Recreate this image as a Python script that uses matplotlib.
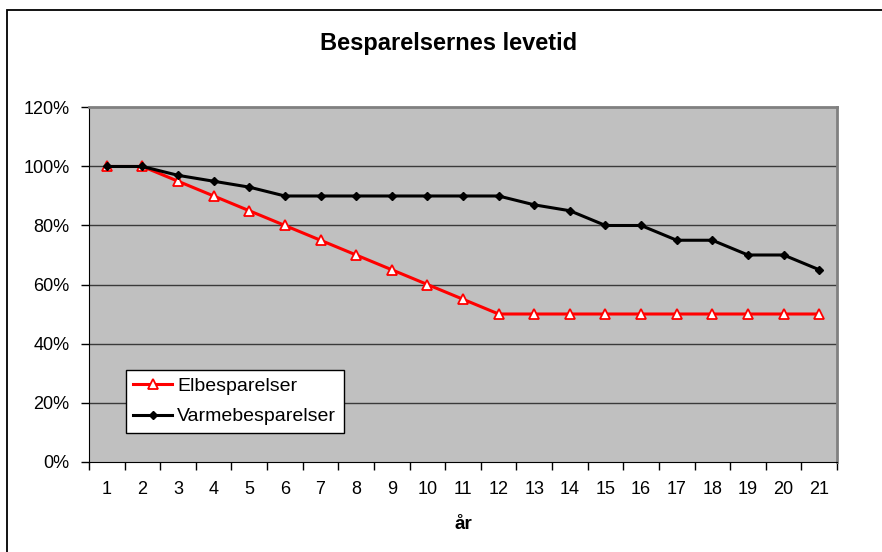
import matplotlib.pyplot as plt
from matplotlib.patches import Rectangle
from matplotlib.ticker import FixedLocator, PercentFormatter

plt.rcParams['font.family'] = ['Liberation Sans', 'DejaVu Sans']

# data
aar = list(range(1, 22))
elbesparelser = [100, 100, 95, 90, 85, 80, 75, 70, 65, 60, 55,
                 50, 50, 50, 50, 50, 50, 50, 50, 50, 50]
varmebesparelser = [100, 100, 97, 95, 93, 90, 90, 90, 90, 90, 90,
                    90, 87, 85, 80, 80, 75, 75, 70, 70, 65]
y_ticks = [0, 20, 40, 60, 80, 100, 120]

fig = plt.figure(figsize=(8.82, 5.52), dpi=100)
ax = fig.add_axes([0.1009, 0.1639, 0.8481, 0.6414])

# ramme om hele diagrammet
fig.patches.append(Rectangle((7 / 882, -0.1), 1.2, 1 - 9.5 / 552 + 0.1,
                             transform=fig.transFigure, fill=False,
                             edgecolor='black', linewidth=1.3))

ax.set_facecolor('#c0c0c0')
for y in y_ticks[1:-1]:
    ax.axhline(y, color='#3a3a3a', linewidth=1, zorder=1)

ax.plot(aar, elbesparelser, color='red', linewidth=2.2, marker='^',
        markersize=7, markerfacecolor='white', markeredgecolor='red',
        markeredgewidth=1.3, label='Elbesparelser', zorder=3)
ax.plot(aar, varmebesparelser, color='black', linewidth=2.2, marker='D',
        markersize=4, label='Varmebesparelser', zorder=4)

ax.set_xlim(0.5, 21.5)
ax.set_ylim(0, 120)
ax.yaxis.set_major_locator(FixedLocator(y_ticks))
ax.yaxis.set_major_formatter(PercentFormatter(decimals=0))

# kategori-akse: streger mellem kategorierne, tal under midten
ax.set_xticks([a + 0.5 for a in [0] + aar])
ax.set_xticklabels([])
ax.set_xticks(aar, minor=True)
ax.set_xticklabels([str(a) for a in aar], minor=True)
ax.tick_params(axis='x', which='major', length=6, width=1, direction='out')
ax.tick_params(axis='x', which='minor', length=0, pad=14, labelsize=13)
ax.tick_params(axis='y', length=6, width=1, direction='out', pad=8, labelsize=13)

ax.spines['left'].set_color('black')
ax.spines['bottom'].set_color('black')
ax.spines['top'].set_color('#808080')
ax.spines['right'].set_color('#808080')
ax.spines['top'].set_linewidth(2)
ax.spines['right'].set_linewidth(2)

ax.set_xlabel('år', fontweight='bold', fontsize=13.5, labelpad=13)
fig.text(0.509, 0.922, 'Besparelsernes levetid', ha='center', va='center',
         fontweight='bold', fontsize=17)

leg = ax.legend(loc='lower left', bbox_to_anchor=(0.049, 0.08), fontsize=14,
                frameon=True, fancybox=False, edgecolor='black',
                borderpad=0.4, handlelength=2.0, handletextpad=0.25,
                labelspacing=0.65, borderaxespad=0)
leg.get_frame().set_linewidth(1)
leg.get_frame().set_facecolor('white')
leg.get_frame().set_alpha(1)

plt.savefig('out.png', dpi=100)
